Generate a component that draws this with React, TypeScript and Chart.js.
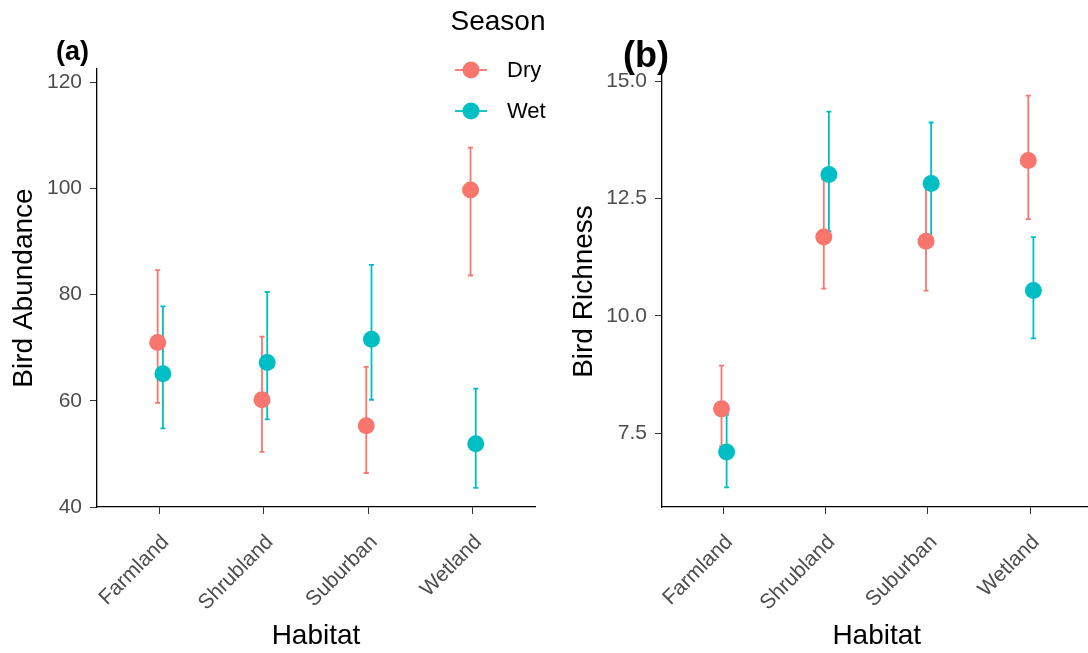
import React, { useEffect, useRef } from "react";
import { Chart, registerables } from "chart.js";

Chart.register(...registerables);

const habitats = ["Farmland", "Shrubland", "Suburban", "Wetland"];
const seasons = ["Dry", "Wet"];
const seasonColors = ["#F8766D", "#00BFC4"];

// Panel (a): Bird Abundance (mean, lower, upper)
const abundanceDry = [71.0, 60.2, 55.3, 99.7];
const abundanceDryLow = [59.6, 50.4, 46.4, 83.6];
const abundanceDryHigh = [84.6, 72.1, 66.4, 107.7];
const abundanceWet = [65.1, 67.2, 71.6, 51.9];
const abundanceWetLow = [54.8, 56.5, 60.2, 43.6];
const abundanceWetHigh = [77.8, 80.5, 85.6, 62.3];
const abundanceTicks = [40, 60, 80, 100, 120];

// Panel (b): Bird Richness (mean, lower, upper)
const richnessDry = [8.02, 11.68, 11.59, 13.31];
const richnessDryLow = [7.22, 10.58, 10.54, 12.06];
const richnessDryHigh = [8.94, 12.91, 12.82, 14.69];
const richnessWet = [7.1, 13.01, 12.82, 10.54];
const richnessWetLow = [6.35, 11.8, 11.65, 9.52];
const richnessWetHigh = [7.9, 14.35, 14.12, 11.68];
const richnessTicks = [7.5, 10.0, 12.5, 15.0];

const FONT = "'Liberation Sans', Arial, Helvetica, sans-serif";
const DODGE = [-0.018, 0.032];
const CAP = 2.5;

type Panel = {
  means: number[][];
  lows: number[][];
  highs: number[][];
  ticks: number[];
  decimals: number;
  yMin: number;
  yMax: number;
  yTitle: string;
  axisWidth: number;
  top: number;
  padRight: number;
  yTitlePad: number;
  tag: string;
  tagSize: number;
  tagX: number;
  tagY: number;
  legend: boolean;
};

function errorBarPlugin(p: Panel) {
  return {
    id: "errorBars",
    beforeDatasetsDraw(chart: any) {
      const { ctx } = chart;
      const x = chart.scales.x;
      const y = chart.scales.y;
      ctx.save();
      p.lows.forEach((lowArr, si) => {
        ctx.strokeStyle = seasonColors[si];
        ctx.lineWidth = 1.8;
        lowArr.forEach((lo, i) => {
          const hi = p.highs[si][i];
          const px = x.getPixelForValue(i + DODGE[si]);
          const pLo = y.getPixelForValue(lo);
          const pHi = y.getPixelForValue(hi);
          ctx.beginPath();
          ctx.moveTo(px, pLo);
          ctx.lineTo(px, pHi);
          ctx.moveTo(px - CAP, pLo);
          ctx.lineTo(px + CAP, pLo);
          ctx.moveTo(px - CAP, pHi);
          ctx.lineTo(px + CAP, pHi);
          ctx.stroke();
        });
      });
      ctx.restore();
    },
  };
}

function decorPlugin(p: Panel) {
  return {
    id: "decor",
    afterDraw(chart: any) {
      const { ctx } = chart;
      ctx.save();
      ctx.fillStyle = "#000";
      ctx.textAlign = "left";
      ctx.textBaseline = "alphabetic";
      ctx.font = `bold ${p.tagSize}px ${FONT}`;
      ctx.fillText(p.tag, p.tagX, p.tagY);
      if (p.legend) {
        ctx.textAlign = "center";
        ctx.textBaseline = "middle";
        ctx.font = `28px ${FONT}`;
        ctx.fillText("Season", 498, 22);
        seasons.forEach((s, si) => {
          const cy = 70 + si * 41;
          ctx.strokeStyle = seasonColors[si];
          ctx.lineWidth = 1.8;
          ctx.beginPath();
          ctx.moveTo(455, cy);
          ctx.lineTo(487, cy);
          ctx.stroke();
          ctx.fillStyle = seasonColors[si];
          ctx.beginPath();
          ctx.arc(471, cy, 8.5, 0, Math.PI * 2);
          ctx.fill();
          ctx.fillStyle = "#000";
          ctx.textAlign = "left";
          ctx.font = `22px ${FONT}`;
          ctx.fillText(s, 507, cy + 1);
        });
      }
      ctx.restore();
    },
  };
}

function buildChart(canvas: HTMLCanvasElement, p: Panel) {
  const datasets = seasons.map((s, si) => ({
    label: s,
    data: habitats.map((_, i) => ({ x: i + DODGE[si], y: p.means[si][i] })),
    backgroundColor: seasonColors[si],
    borderColor: seasonColors[si],
    pointRadius: 8.5,
    pointHoverRadius: 8.5,
    pointBorderWidth: 0,
    showLine: false,
  }));
  return new Chart(canvas, {
    type: "scatter",
    data: { datasets },
    options: {
      animation: false,
      responsive: false,
      events: [],
      layout: { padding: { top: p.top, right: p.padRight, left: 0, bottom: 0 } },
      plugins: {
        legend: { display: false },
        tooltip: { enabled: false },
        title: { display: false },
      },
      scales: {
        x: {
          type: "linear",
          min: -0.6,
          max: 3.6,
          afterBuildTicks: (s: any) => {
            s.ticks = habitats.map((_, i) => ({ value: i }));
          },
          afterFit: (s: any) => {
            s.height = 146;
          },
          ticks: {
            autoSkip: false,
            maxRotation: 45,
            minRotation: 45,
            labelOffset: 6,
            padding: 16,
            color: "#4D4D4D",
            font: { family: FONT, size: 21 },
            callback: (v: any) => habitats[Math.round(Number(v))],
          },
          grid: {
            display: true,
            drawOnChartArea: false,
            drawTicks: true,
            tickLength: 7,
            color: "#333333",
            lineWidth: 1,
          },
          border: { display: true, color: "#000", width: 1.3 },
          title: {
            display: true,
            text: "Habitat",
            color: "#000",
            font: { family: FONT, size: 28 },
            padding: { top: 0, bottom: 0 },
          },
        },
        y: {
          type: "linear",
          min: p.yMin,
          max: p.yMax,
          afterBuildTicks: (s: any) => {
            s.ticks = p.ticks.map((v) => ({ value: v }));
          },
          afterFit: (s: any) => {
            s.width = p.axisWidth;
          },
          ticks: {
            padding: 8,
            color: "#4D4D4D",
            font: { family: FONT, size: 21 },
            callback: (v: any) => Number(v).toFixed(p.decimals),
          },
          grid: {
            display: true,
            drawOnChartArea: false,
            drawTicks: true,
            tickLength: 7,
            color: "#333333",
            lineWidth: 1,
          },
          border: { display: true, color: "#000", width: 1.3 },
          title: {
            display: true,
            text: p.yTitle,
            color: "#000",
            font: { family: FONT, size: 28 },
            padding: { top: p.yTitlePad, bottom: 0 },
          },
        },
      },
    } as any,
    plugins: [errorBarPlugin(p), decorPlugin(p)],
  });
}

const panelA: Panel = {
  means: [abundanceDry, abundanceWet],
  lows: [abundanceDryLow, abundanceWetLow],
  highs: [abundanceDryHigh, abundanceWetHigh],
  ticks: abundanceTicks,
  decimals: 0,
  yMin: 40,
  yMax: 122.5,
  yTitle: "Bird Abundance",
  axisWidth: 97,
  top: 69,
  padRight: 25,
  yTitlePad: 7,
  tag: "(a)",
  tagSize: 27,
  tagX: 56,
  tagY: 60,
  legend: true,
};

const panelB: Panel = {
  means: [richnessDry, richnessWet],
  lows: [richnessDryLow, richnessWetLow],
  highs: [richnessDryHigh, richnessWetHigh],
  ticks: richnessTicks,
  decimals: 1,
  yMin: 5.93,
  yMax: 15.11,
  yTitle: "Bird Richness",
  axisWidth: 107,
  top: 76,
  padRight: 6,
  yTitlePad: 12,
  tag: "(b)",
  tagSize: 36,
  tagX: 68,
  tagY: 67,
  legend: false,
};

function ChartCanvas({ panel, left, width }: { panel: Panel; left: number; width: number }) {
  const ref = useRef<HTMLCanvasElement>(null);
  useEffect(() => {
    if (!ref.current) return;
    const chart = buildChart(ref.current, panel);
    return () => chart.destroy();
  }, [panel]);
  return (
    <canvas
      ref={ref}
      width={width}
      height={653}
      style={{ position: "absolute", left, top: 0, width, height: 653 }}
    />
  );
}

export default function App() {
  return (
    <div
      style={{
        position: "absolute",
        left: 0,
        top: 0,
        width: 1088,
        height: 653,
        overflow: "hidden",
        background: "#fff",
      }}
    >
      <ChartCanvas panel={panelA} left={0} width={560} />
      <ChartCanvas panel={panelB} left={555} width={545} />
    </div>
  );
}
